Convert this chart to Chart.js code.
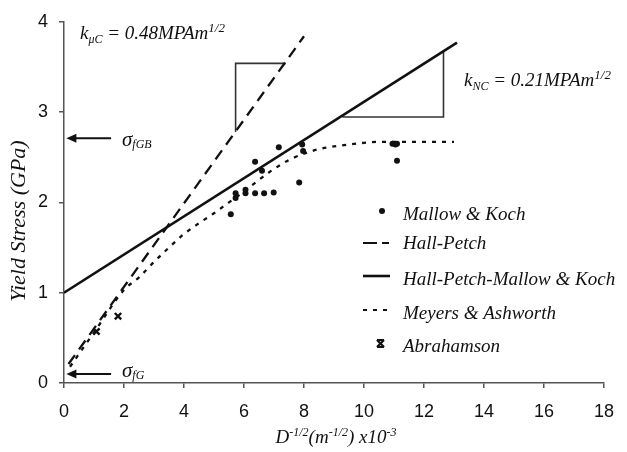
<!DOCTYPE html>
<html>
<head>
<meta charset="utf-8">
<script src="https://cdn.jsdelivr.net/npm/chart.js@4.4.1/dist/chart.umd.min.js"></script>
<style>
  html, body { margin: 0; padding: 0; background: #ffffff; }
  #wrap { width: 627px; height: 452px; }
</style>
</head>
<body>
<div id="wrap"><canvas id="c" width="627" height="452"></canvas></div>
<script>
// ---------------- data ----------------
const xTicks = [0, 2, 4, 6, 8, 10, 12, 14, 16, 18];
const yTicks = [0, 1, 2, 3, 4];

const legendLabels = ["Mallow & Koch", "Hall-Petch", "Hall-Petch-Mallow & Koch", "Meyers & Ashworth", "Abrahamson"];

const mallowKochX = [5.56, 5.72, 5.72, 6.05, 6.05, 6.37, 6.37, 6.60, 6.67, 6.99, 7.16, 7.84, 7.94, 7.97, 10.95, 11.05, 11.10, 11.10];
const mallowKochY = [1.87, 2.05, 2.10, 2.10, 2.14, 2.10, 2.45, 2.35, 2.10, 2.11, 2.61, 2.22, 2.64, 2.57, 2.65, 2.64, 2.65, 2.46];

const hallPetchX = [0.15, 8.0];
const hallPetchY = [0.21, 3.84];

const hpmkX = [0, 13.1];
const hpmkY = [1.0, 3.77];

const meyersX = [0.2, 1.0, 2.0, 2.5, 3.0, 3.5, 4.0, 4.5, 5.0, 5.5, 6.0, 6.5, 7.0, 7.5, 8.0, 8.5, 9.0, 9.5, 10.0, 10.5, 11.0, 12.0, 13.0];
const meyersY = [0.18, 0.56, 1.03, 1.17, 1.34, 1.50, 1.65, 1.77, 1.88, 2.00, 2.12, 2.25, 2.37, 2.47, 2.54, 2.59, 2.62, 2.64, 2.66, 2.67, 2.67, 2.67, 2.67];

const abrahamsonX = [1.08, 1.80];
const abrahamsonY = [0.57, 0.74];

const slope1X = [5.72, 5.72, 7.39];
const slope1Y = [2.78, 3.54, 3.54];
const slope2X = [9.28, 12.65, 12.65];
const slope2Y = [2.945, 2.945, 3.68];

// annotation arrows (data coordinates): [xFrom, xTo, y]
const arrowGB = [1.57, 0.08, 2.71];
const arrowG = [1.57, 0.08, 0.10];

// ---------------- helpers ----------------
const pts = (xs, ys) => xs.map((x, i) => ({ x: x, y: ys[i] }));
const INK = '#111111';
const SERIF = '"Liberation Serif", "Times New Roman", serif';

function drawRich(ctx, x, y, parts, align) {
  let total = 0;
  parts.forEach(p => {
    ctx.font = 'italic ' + p.s + 'px ' + SERIF;
    p.w = ctx.measureText(p.t).width;
    total += p.w;
  });
  let cx = align === 'center' ? x - total / 2 : (align === 'right' ? x - total : x);
  ctx.textAlign = 'left';
  ctx.textBaseline = 'alphabetic';
  parts.forEach(p => {
    ctx.font = 'italic ' + p.s + 'px ' + SERIF;
    ctx.fillText(p.t, cx, y + (p.dy || 0));
    cx += p.w;
  });
}

function arrow(ctx, x1, x2, y) {
  ctx.save();
  ctx.strokeStyle = INK;
  ctx.fillStyle = INK;
  ctx.lineWidth = 2;
  ctx.beginPath();
  ctx.moveTo(x1, y);
  ctx.lineTo(x2 + 6, y);
  ctx.stroke();
  ctx.beginPath();
  ctx.moveTo(x2, y);
  ctx.lineTo(x2 + 10, y - 4.5);
  ctx.lineTo(x2 + 10, y + 4.5);
  ctx.closePath();
  ctx.fill();
  ctx.restore();
}

const annotationPlugin = {
  id: 'annot',
  afterDraw(chart) {
    const ctx = chart.ctx;
    const xs = chart.scales.x, ys = chart.scales.y;
    ctx.save();
    ctx.fillStyle = INK;

    // slope texts
    drawRich(ctx, 80, 39, [
      { t: 'k', s: 19 }, { t: '\u03bcC', s: 12, dy: 4 },
      { t: ' = 0.48MPAm', s: 19 }, { t: '1/2', s: 13, dy: -7 }
    ], 'left');
    drawRich(ctx, 464, 86, [
      { t: 'k', s: 19 }, { t: 'NC', s: 12, dy: 4 },
      { t: ' = 0.21MPAm', s: 19 }, { t: '1/2', s: 13, dy: -7 }
    ], 'left');

    // sigma arrows
    arrow(ctx, xs.getPixelForValue(arrowGB[0]), xs.getPixelForValue(arrowGB[1]), ys.getPixelForValue(arrowGB[2]));
    arrow(ctx, xs.getPixelForValue(arrowG[0]), xs.getPixelForValue(arrowG[1]), ys.getPixelForValue(arrowG[2]));
    drawRich(ctx, 122, 146, [{ t: '\u03c3', s: 21 }, { t: 'fGB', s: 12, dy: 2 }], 'left');
    drawRich(ctx, 122, 377, [{ t: '\u03c3', s: 21 }, { t: 'fG', s: 12, dy: 2 }], 'left');

    // axis titles
    drawRich(ctx, 336, 443, [
      { t: 'D', s: 19 }, { t: '-1/2', s: 12, dy: -7 },
      { t: '(m', s: 19 }, { t: '-1/2', s: 12, dy: -7 },
      { t: ') x10', s: 19 }, { t: '-3', s: 12, dy: -7 }
    ], 'center');
    ctx.save();
    ctx.translate(25, 221);
    ctx.rotate(-Math.PI / 2);
    drawRich(ctx, 0, 0, [{ t: 'Yield Stress (GPa)', s: 22 }], 'center');
    ctx.restore();

    // legend
    const lx = 403;
    const base = [220, 249, 285, 319, 352];
    ctx.fillStyle = INK;
    legendLabels.forEach((lab, i) => {
      drawRich(ctx, lx, base[i], [{ t: lab, s: 19 }], 'left');
    });
    // markers
    ctx.strokeStyle = INK;
    ctx.fillStyle = INK;
    ctx.beginPath(); ctx.arc(382, 211, 3, 0, Math.PI * 2); ctx.fill();
    ctx.lineWidth = 2.2;
    ctx.beginPath(); ctx.moveTo(363, 243); ctx.lineTo(377, 243); ctx.moveTo(382, 243); ctx.lineTo(389, 243); ctx.stroke();
    ctx.lineWidth = 2.6;
    ctx.beginPath(); ctx.moveTo(363, 276); ctx.lineTo(390, 276); ctx.stroke();
    ctx.lineWidth = 2.2;
    ctx.setLineDash([4, 6]);
    ctx.beginPath(); ctx.moveTo(363, 310); ctx.lineTo(392, 310); ctx.stroke();
    ctx.setLineDash([]);
    ctx.lineWidth = 2.2;
    ctx.beginPath();
    ctx.moveTo(377, 340); ctx.lineTo(384, 347); ctx.moveTo(384, 340); ctx.lineTo(377, 347);
    ctx.moveTo(377, 340); ctx.lineTo(384, 340); ctx.moveTo(377, 347); ctx.lineTo(384, 347);
    ctx.stroke();
    ctx.restore();
  }
};

// ---------------- chart ----------------
const lineBase = { type: 'line', showLine: true, pointRadius: 0, fill: false, borderColor: INK, backgroundColor: INK };

new Chart(document.getElementById('c'), {
  type: 'scatter',
  data: {
    datasets: [
      { label: legendLabels[0], data: pts(mallowKochX, mallowKochY), pointRadius: 3, pointStyle: 'circle',
        backgroundColor: INK, borderColor: INK, borderWidth: 0 },
      Object.assign({}, lineBase, { label: legendLabels[1], data: pts(hallPetchX, hallPetchY), borderWidth: 2.3, borderDash: [11, 7] }),
      Object.assign({}, lineBase, { label: legendLabels[2], data: pts(hpmkX, hpmkY), borderWidth: 2.6 }),
      Object.assign({}, lineBase, { label: legendLabels[3], data: pts(meyersX, meyersY), borderWidth: 2.3, borderDash: [4, 6],
        cubicInterpolationMode: 'monotone' }),
      { label: legendLabels[4], data: pts(abrahamsonX, abrahamsonY), pointRadius: 4.5, pointStyle: 'crossRot',
        borderColor: INK, backgroundColor: INK, borderWidth: 2.4 },
      Object.assign({}, lineBase, { label: 'slope1', data: pts(slope1X, slope1Y), borderWidth: 1.6, borderColor: '#333' }),
      Object.assign({}, lineBase, { label: 'slope2', data: pts(slope2X, slope2Y), borderWidth: 1.6, borderColor: '#333' })
    ]
  },
  options: {
    responsive: false,
    animation: false,
    devicePixelRatio: 1,
    layout: { padding: { left: 0, top: 19, right: 12, bottom: 0 } },
    plugins: { legend: { display: false }, tooltip: { enabled: false } },
    scales: {
      x: {
        type: 'linear', min: 0, max: 18,
        afterBuildTicks: s => { s.ticks = xTicks.map(v => ({ value: v })); },
        afterFit: s => { s.height = 69; },
        ticks: { font: { family: '"Liberation Sans", Arial, sans-serif', size: 18 }, color: INK, padding: 13, maxRotation: 0 },
        grid: { drawOnChartArea: false, drawTicks: true, tickLength: 5, color: '#555', lineWidth: 1.5 },
        border: { display: true, color: '#555', width: 1.5 },
        title: { display: false }
      },
      y: {
        type: 'linear', min: 0, max: 4,
        afterBuildTicks: s => { s.ticks = yTicks.map(v => ({ value: v })); },
        afterFit: s => { s.width = 64; },
        ticks: { font: { family: '"Liberation Sans", Arial, sans-serif', size: 18 }, color: INK, padding: 11 },
        grid: { drawOnChartArea: false, drawTicks: true, tickLength: 5, color: '#555', lineWidth: 1.5 },
        border: { display: true, color: '#555', width: 1.5 },
        title: { display: false }
      }
    }
  },
  plugins: [annotationPlugin]
});
</script>
</body>
</html>
